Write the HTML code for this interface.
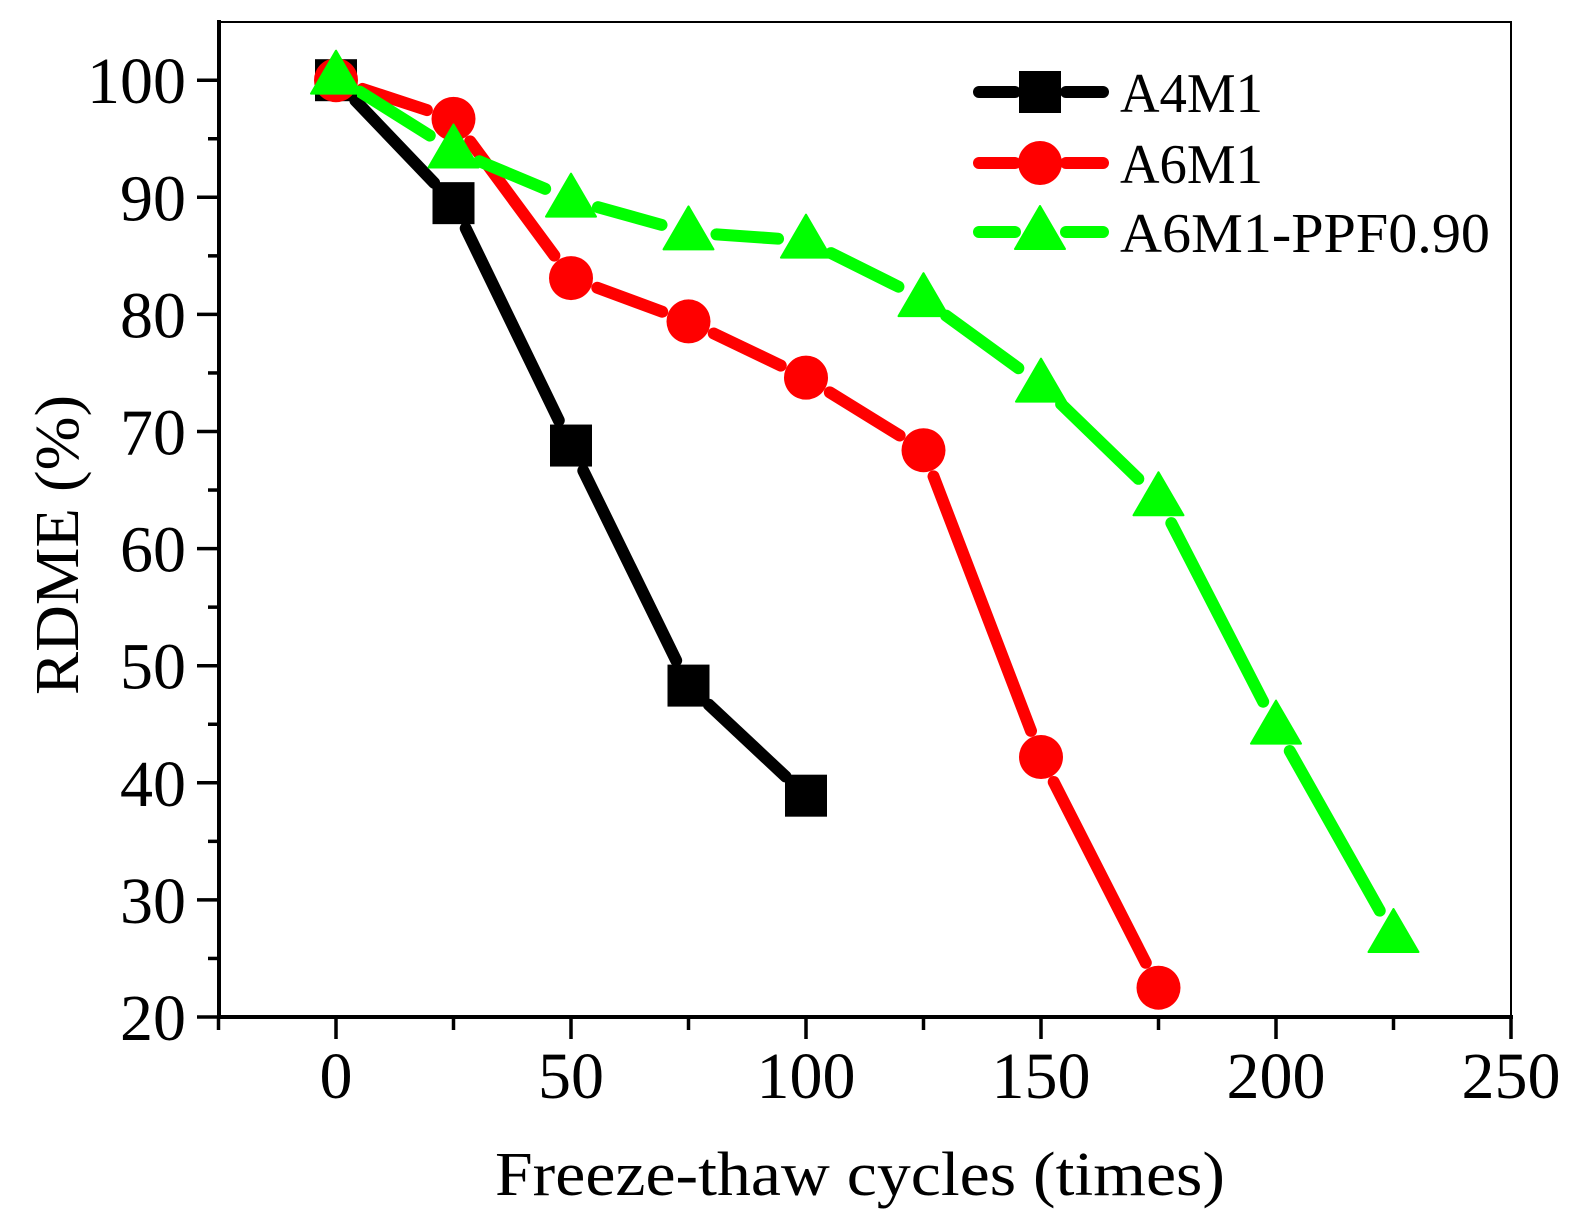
<!DOCTYPE html>
<html><head><meta charset="utf-8"><style>body{margin:0;background:#fff}svg{display:block}</style></head>
<body>
<svg id="s" width="1575" height="1230" xmlns="http://www.w3.org/2000/svg" font-family="Liberation Serif, serif">
<rect width="1575" height="1230" fill="#fff"/>
<g id="ax"></g>
<g id="data"></g>
<g font-size="56">
<text x="1120" y="112" textLength="143" lengthAdjust="spacingAndGlyphs">A4M1</text>
<text x="1120" y="183" textLength="143" lengthAdjust="spacingAndGlyphs">A6M1</text>
<text x="1120" y="252" textLength="370" lengthAdjust="spacingAndGlyphs">A6M1-PPF0.90</text>
</g>
<text x="860" y="1195" font-size="62" text-anchor="middle" textLength="730" lengthAdjust="spacingAndGlyphs">Freeze-thaw cycles (times)</text>
<text transform="translate(78,545) rotate(-90)" font-size="62" text-anchor="middle" textLength="300" lengthAdjust="spacingAndGlyphs">RDME (%)</text>
</svg>
<script>
const NS="http://www.w3.org/2000/svg";
const X=v=>336+v*4.7, Y=v=>1017-(v-20)*11.71;
function el(p,t,a,txt){const e=document.createElementNS(NS,t);for(const k in a)e.setAttribute(k,a[k]);if(txt!=null)e.textContent=txt;p.appendChild(e);return e;}
const ax=document.getElementById('ax'),d=document.getElementById('data');
el(ax,'rect',{x:219,y:22,width:1292,height:995,fill:'none',stroke:'#000','stroke-width':2});
el(ax,'line',{x1:219,y1:20,x2:219,y2:1019,stroke:'#000','stroke-width':4});
el(ax,'line',{x1:217,y1:1017,x2:1513,y2:1017,stroke:'#000','stroke-width':4});
for(let v=20;v<=100;v+=5){const y=Y(v),maj=v%10==0;el(ax,'line',{x1:maj?197:208,y1:y,x2:219,y2:y,stroke:'#000','stroke-width':3.5});
 if(maj)el(ax,'text',{x:186,y:y+23,'font-size':66,'text-anchor':'end'},v);}
for(let v=-25;v<=250;v+=25){const x=X(v),maj=v%50==0;el(ax,'line',{x1:x,y1:1017,x2:x,y2:maj?1039:1030,stroke:'#000','stroke-width':3.5});
 if(maj)el(ax,'text',{x:x,y:1098,'font-size':66,'text-anchor':'middle'},v);}
function seg(x1,y1,x2,y2,c,g){const dx=x2-x1,dy=y2-y1,L=Math.hypot(dx,dy);if(L<2*g+2)return;const ux=dx/L,uy=dy/L;
 el(d,'line',{x1:x1+ux*g,y1:y1+uy*g,x2:x2-ux*g,y2:y2-uy*g,stroke:c,'stroke-width':12,'stroke-linecap':'round'});}
function mark(t,x,y,c){if(t=='s')el(d,'rect',{x:x-21,y:y-21,width:42,height:42,fill:c});
 else if(t=='c')el(d,'circle',{cx:x,cy:y,r:22,fill:c});
 else el(d,'polygon',{points:`${x},${y-26} ${x-25},${y+17} ${x+25},${y+17}`,fill:c,stroke:c,'stroke-width':2,'stroke-linejoin':'round'});}
const S=[
 ['s','#000',[[0,100],[25,89.5],[50,68.8],[75,48.3],[100,38.9]]],
 ['c','#f00',[[0,100],[25,96.7],[50,83.1],[75,79.4],[100,74.6],[125,68.4],[150,42.2],[175,22.5]]],
 ['t','#00ff00',[[0,100.3],[25,94],[50,89.8],[75,87],[100,86.3],[125,81.3],[150,74],[175,64.3],[200,44.8],[225,27]]]];
S.forEach(([t,c,p])=>{const q=p.map(([a,b])=>[X(a),Y(b)]);for(let i=0;i<q.length-1;i++)seg(q[i][0],q[i][1],q[i+1][0],q[i+1][1],c,28);});
S.forEach(([t,c,p])=>p.forEach(([a,b])=>mark(t,X(a),Y(b),c)));
[['s','#000',92],['c','#f00',163],['t','#00ff00',232]].forEach(([t,c,y])=>{
 el(d,'line',{x1:979,y1:y,x2:1015,y2:y,stroke:c,'stroke-width':12,'stroke-linecap':'round'});
 el(d,'line',{x1:1066,y1:y,x2:1103,y2:y,stroke:c,'stroke-width':12,'stroke-linecap':'round'});
 mark(t,1040,y,c);});
</script>
</body></html>
